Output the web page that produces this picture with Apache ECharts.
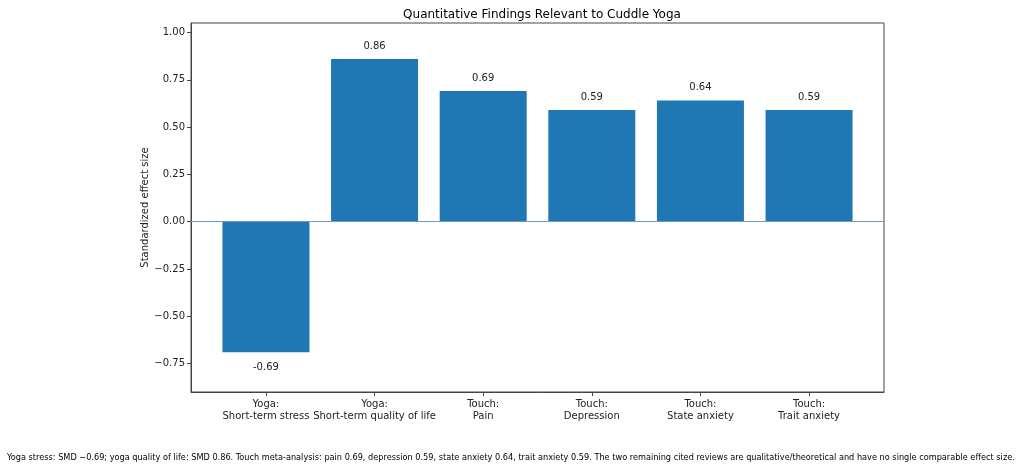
<!DOCTYPE html>
<html>
<head>
<meta charset="utf-8">
<script src="https://cdn.jsdelivr.net/npm/echarts@6/dist/echarts.min.js"></script>
<style>
  html, body { margin: 0; padding: 0; background: #fff; }
  #chart { width: 1024px; height: 472px; }
</style>
</head>
<body>
<div id="chart"></div>
<script>
// 数据
const categories = [
    "Yoga:\nShort-term stress",
    "Yoga:\nShort-term quality of life",
    "Touch:\nPain",
    "Touch:\nDepression",
    "Touch:\nState anxiety",
    "Touch:\nTrait anxiety"
];
const effectSizes = [-0.69, 0.86, 0.69, 0.59, 0.64, 0.59];
const yTicks = [-0.75, -0.5, -0.25, 0, 0.25, 0.5, 0.75, 1.0];
const footnote = "Yoga stress: SMD \u22120.69; yoga quality of life: SMD 0.86. Touch meta-analysis: pain 0.69, depression 0.59, state anxiety 0.64, trait anxiety 0.59. The two remaining cited reviews are qualitative/theoretical and have no single comparable effect size.";

const font = "DejaVu Sans";
const myChart = echarts.init(document.getElementById("chart"));

let option = {
    backgroundColor: "#fff",
    animation: false,
    title: {
        text: "Quantitative Findings Relevant to Cuddle Yoga",
        left: 537, top: 4, textAlign: "center",
        textStyle: { fontFamily: font, fontSize: 12, fontWeight: "normal", color: "#000" }
    },
    grid: {
        left: 191, top: 23, width: 693, height: 369,
        show: true, borderColor: "#444", borderWidth: 1, backgroundColor: "transparent"
    },
    xAxis: {
        type: "value",
        min: -0.69, max: 5.69,
        splitLine: { show: false },
        axisLine: { show: true, onZero: false, lineStyle: { color: "#444" } },
        axisTick: { show: true, customValues: [0, 1, 2, 3, 4, 5], length: 4, lineStyle: { color: "#444" } },
        axisLabel: {
            customValues: [0, 1, 2, 3, 4, 5],
            formatter: v => categories[Math.round(v)] || "",
            fontFamily: font, fontSize: 10, color: "#222", lineHeight: 12, margin: 6
        }
    },
    yAxis: {
        type: "value",
        min: -0.9, max: 1.05,
        name: "Standardized effect size",
        nameLocation: "middle", nameGap: 41, nameMoveOverlap: false,
        nameTextStyle: { fontFamily: font, fontSize: 10, color: "#222" },
        splitLine: { show: false },
        axisLine: { show: true, onZero: false, lineStyle: { color: "#444" } },
        axisTick: { show: true, customValues: yTicks, length: 4, lineStyle: { color: "#444" } },
        axisLabel: {
            customValues: yTicks,
            formatter: v => (v < 0 ? "\u2212" : "") + Math.abs(v).toFixed(2),
            fontFamily: font, fontSize: 10, color: "#222", margin: 6
        }
    },
    graphic: [{
        type: "text", left: 7, top: 453,
        style: { text: footnote, fontFamily: "DejaVu Sans Condensed", fontSize: 9.1, fill: "#000" }
    }],
    series: [{
        type: "bar",
        barWidth: 87,
        itemStyle: { color: "#1f77b4" },
        data: effectSizes.map((v, i) => ({
            value: [i, v],
            label: {
                show: true,
                position: v < 0 ? "bottom" : "top",
                distance: v < 0 ? 10 : 8,
                formatter: v.toFixed(2),
                fontFamily: font, fontSize: 10, color: "#222"
            }
        })),
        markLine: {
            silent: true,
            symbol: "none",
            label: { show: false },
            lineStyle: { color: "#6b9bc8", width: 1, type: "solid" },
            data: [{ yAxis: 0 }]
        }
    }]
};
myChart.setOption(option);
</script>
</body>
</html>
